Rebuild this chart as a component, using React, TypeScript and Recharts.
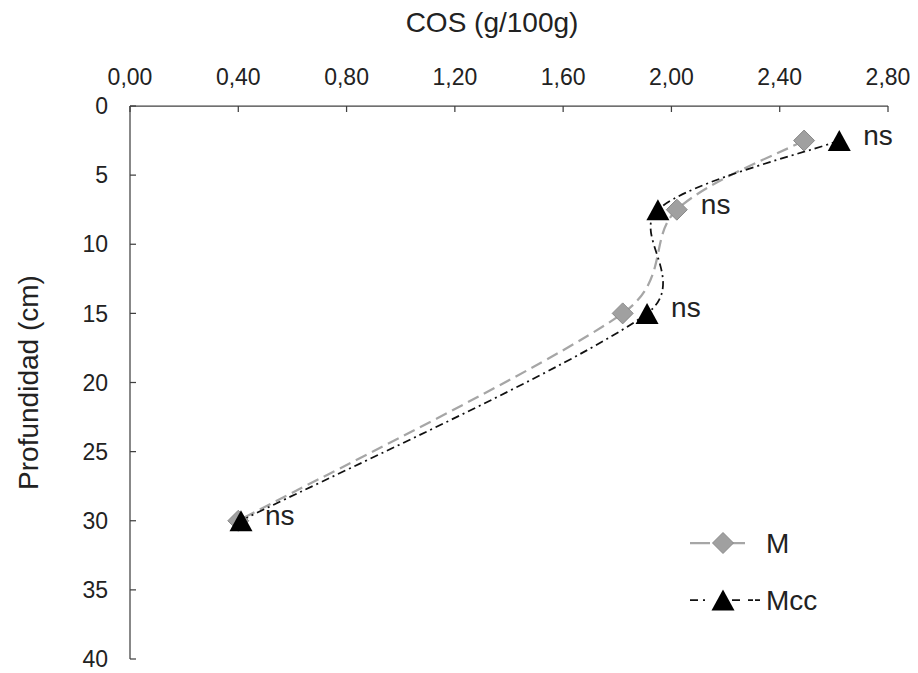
import React from "react"
import { LineChart, Line, XAxis, YAxis, Legend, Label, LabelList } from "recharts"

// depth (cm) and soil organic carbon (g/100g) per treatment
const depths = [2.5, 7.5, 15, 30]
const cosM = [2.49, 2.02, 1.82, 0.4]
const cosMcc = [2.62, 1.95, 1.91, 0.41]
const notes = ["ns", "ns", "ns", "ns"]
const xTicks = [0, 0.4, 0.8, 1.2, 1.6, 2.0, 2.4, 2.8]
const yTicks = [0, 5, 10, 15, 20, 25, 30, 35, 40]

const data = depths.map((depth, i) => ({
  depth,
  M: cosM[i],
  Mcc: cosMcc[i],
  note: notes[i],
}))

const FONT = "'Liberation Sans', Arial, sans-serif"
const TEXT = "#222"
const AXIS = "#404040"

const M_STYLE = { stroke: "#a6a6a6", width: 2.25, dash: "12 6" }
const MCC_STYLE = { stroke: "#111", width: 1.75, dash: "8 4 2 4" }

const dist = (a: number[], b: number[]) => Math.hypot(b[0] - a[0], b[1] - a[1])

// Catmull-Rom smoothing; tangents are damped where a short segment
// meets a long one so the curve does not swing wide
const smooth = (context: any) => {
  let pts: number[][] = []
  return {
    areaStart() {},
    areaEnd() {},
    lineStart() {
      pts = []
    },
    point(x: number, y: number) {
      pts.push([+x, +y])
    },
    lineEnd() {
      if (!pts.length) return
      context.moveTo(pts[0][0], pts[0][1])
      for (let i = 0; i < pts.length - 1; i++) {
        const p0 = pts[Math.max(i - 1, 0)]
        const p1 = pts[i]
        const p2 = pts[i + 1]
        const p3 = pts[Math.min(i + 2, pts.length - 1)]
        const d01 = dist(p0, p1)
        const d12 = dist(p1, p2)
        const d23 = dist(p2, p3)
        const s1 = Math.min(1, Math.sqrt((2 * d12) / (d01 + d12 || 1)))
        const s2 = Math.min(1, Math.sqrt((2 * d12) / (d12 + d23 || 1)))
        context.bezierCurveTo(
          p1[0] + ((p2[0] - p0[0]) / 6) * s1,
          p1[1] + ((p2[1] - p0[1]) / 6) * s1,
          p2[0] - ((p3[0] - p1[0]) / 6) * s2,
          p2[1] - ((p3[1] - p1[1]) / 6) * s2,
          p2[0],
          p2[1]
        )
      }
    },
  }
}

const Diamond = ({ cx, cy }: { cx: number; cy: number }) => {
  const r = 10.5
  return (
    <path
      d={`M${cx},${cy - r}L${cx + r},${cy}L${cx},${cy + r}L${cx - r},${cy}Z`}
      fill="#a0a0a0"
      stroke="#8a8a8a"
      strokeWidth={1}
    />
  )
}

const Triangle = ({ cx, cy }: { cx: number; cy: number }) => (
  <path
    d={`M${cx},${cy - 10.5}L${cx + 11.5},${cy + 10.5}L${cx - 11.5},${cy + 10.5}Z`}
    fill="#000"
  />
)

const fmtX = (v: number) => v.toFixed(2).replace(".", ",")

const NoteLabel = (props: any) => {
  const { x, y, value } = props
  return (
    <text x={x + 24} y={y + 4} fontSize={28} fill={TEXT} fontFamily={FONT}>
      {value}
    </text>
  )
}

const DepthTitle = (props: any) => {
  const { x, y, height } = props.viewBox
  const cx = x - 32
  const cy = y + height / 2
  return (
    <text
      x={cx}
      y={cy}
      fontSize={28}
      fill={TEXT}
      fontFamily={FONT}
      textAnchor="middle"
      dominantBaseline="central"
      transform={`rotate(-90 ${cx} ${cy})`}
    >
      Profundidad (cm)
    </text>
  )
}

const LegendBox = () => (
  <svg width={170} height={100} style={{ display: "block" }}>
    <line x1={0} y1={23} x2={70} y2={23} stroke={M_STYLE.stroke} strokeWidth={M_STYLE.width} strokeDasharray="20 15 20 15" />
    <Diamond cx={33} cy={23} />
    <text x={76} y={33} fontSize={28} fill={TEXT} fontFamily={FONT}>
      M
    </text>
    <line x1={0} y1={80} x2={70} y2={80} stroke={MCC_STYLE.stroke} strokeWidth={MCC_STYLE.width} strokeDasharray="8 5 2 20 2 5 8" />
    <Triangle cx={33} cy={80} />
    <text x={76} y={90} fontSize={28} fill={TEXT} fontFamily={FONT}>
      Mcc
    </text>
  </svg>
)

const App: React.FC = () => {
  return (
    <div style={{ fontFamily: FONT }}>
      <LineChart
        width={910}
        height={665}
        data={data}
        layout="vertical"
        margin={{ top: 38, right: 30, bottom: 14, left: 52 }}
      >
        <XAxis
          type="number"
          orientation="top"
          domain={[0, 2.8]}
          ticks={xTicks}
          tickFormatter={fmtX}
          height={60}
          axisLine={{ stroke: AXIS, strokeWidth: 1.25 }}
          tickLine={{ stroke: AXIS, strokeWidth: 1.25 }}
          tickSize={-6}
          tickMargin={27}
          tick={{ fontSize: 23, fill: TEXT }}
          interval={0}
        >
          <Label value="COS (g/100g)" position="top" offset={14} dx={-17} fontSize={28} fill={TEXT} />
        </XAxis>
        <YAxis
          type="number"
          dataKey="depth"
          domain={[0, 40]}
          ticks={yTicks}
          width={70}
          axisLine={{ stroke: AXIS, strokeWidth: 1.25 }}
          tickLine={{ stroke: AXIS, strokeWidth: 1.25 }}
          tickSize={-6}
          tickMargin={28}
          tick={{ fontSize: 23, fill: TEXT }}
          interval={0}
        >
          <Label content={DepthTitle} />
        </YAxis>
        <Line
          dataKey="M"
          name="M"
          type={smooth as any}
          stroke={M_STYLE.stroke}
          strokeWidth={M_STYLE.width}
          strokeDasharray={M_STYLE.dash}
          dot={(p: any) => <Diamond key={`m-${p.index}`} cx={p.cx} cy={p.cy} />}
          activeDot={false}
          isAnimationActive={false}
        />
        <Line
          dataKey="Mcc"
          name="Mcc"
          type={smooth as any}
          stroke={MCC_STYLE.stroke}
          strokeWidth={MCC_STYLE.width}
          strokeDasharray={MCC_STYLE.dash}
          dot={(p: any) => <Triangle key={`mcc-${p.index}`} cx={p.cx} cy={p.cy} />}
          activeDot={false}
          isAnimationActive={false}
        />
        {/* significance notes sit right of the outermost marker at each depth */}
        <Line
          dataKey={(d: any) => Math.max(d.M, d.Mcc)}
          stroke="none"
          dot={false}
          activeDot={false}
          legendType="none"
          isAnimationActive={false}
        >
          <LabelList dataKey="note" content={NoteLabel} />
        </Line>
        <Legend
          layout="vertical"
          align="center"
          verticalAlign="middle"
          content={LegendBox}
          wrapperStyle={{ left: 682, top: 512, width: 170, height: 100 }}
        />
      </LineChart>
    </div>
  )
}

export default App
